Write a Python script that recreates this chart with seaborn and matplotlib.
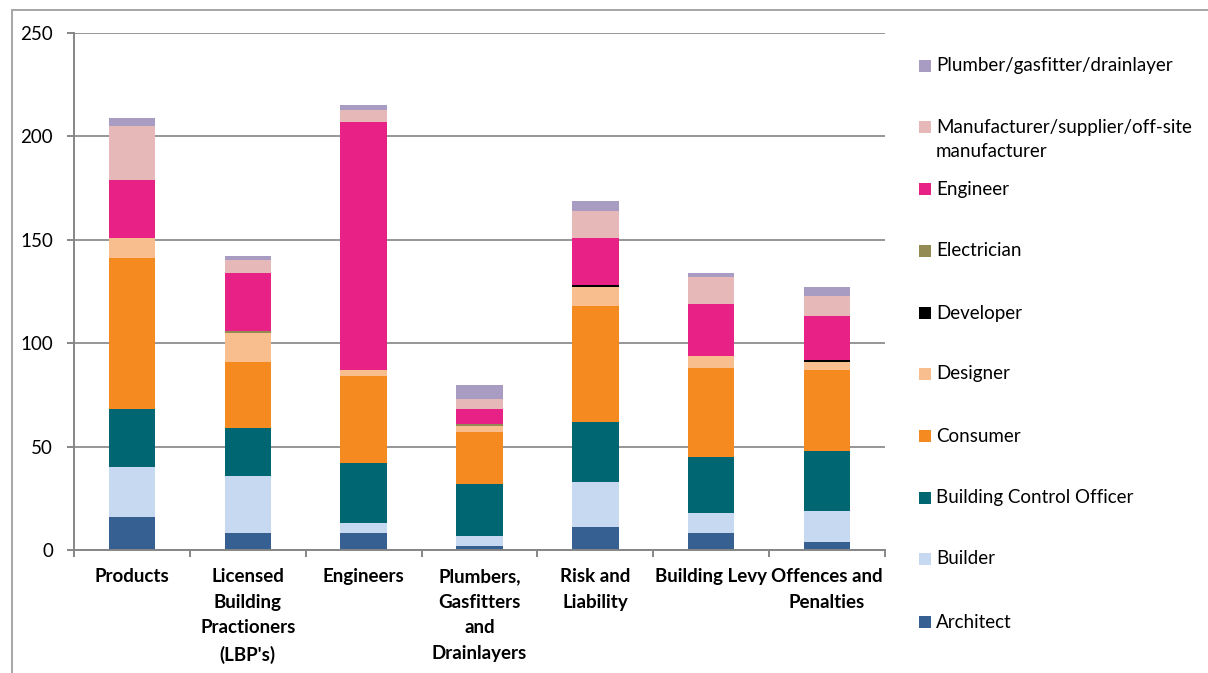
import matplotlib
matplotlib.use("Agg")
import matplotlib.pyplot as plt
from matplotlib.patches import Rectangle
import numpy as np
import seaborn as sns

# Topics (x categories) and submitter groups (stacked series, bottom to top)
categories = [
    "Products",
    "Licensed\nBuilding\nPractioners\n(LBP's)",
    "Engineers",
    "Plumbers,\nGasfitters\nand\nDrainlayers",
    "Risk and\nLiability",
    "Building Levy",
    "Offences and\nPenalties",
]

architect = [16, 8, 8, 2, 11, 8, 4]
builder = [24, 28, 5, 5, 22, 10, 15]
building_control_officer = [28, 23, 29, 25, 29, 27, 29]
consumer = [73, 32, 42, 25, 56, 43, 39]
designer = [10, 14, 3, 3, 9, 6, 4]
developer = [0, 0, 0, 0, 1, 0, 1]
electrician = [0, 1, 0, 1, 0, 0, 0]
engineer = [28, 28, 120, 7, 23, 25, 21]
manufacturer = [26, 6, 6, 5, 13, 13, 10]
plumber = [4, 2, 2, 7, 5, 2, 4]

series_names = [
    "Architect",
    "Builder",
    "Building Control Officer",
    "Consumer",
    "Designer",
    "Developer",
    "Electrician",
    "Engineer",
    "Manufacturer/supplier/off-site\nmanufacturer",
    "Plumber/gasfitter/drainlayer",
]
series_values = [architect, builder, building_control_officer, consumer, designer,
                 developer, electrician, engineer, manufacturer, plumber]
series_colors = ["#376092", "#C6D9F1", "#006672", "#F58A21", "#F9BE8E",
                 "#000000", "#948A54", "#E82187", "#E6B9B8", "#A99CC2"]

sns.set_style("white")
plt.rcParams["font.family"] = ["Lato", "DejaVu Sans"]
plt.rcParams["text.color"] = "black"
plt.rcParams["xtick.color"] = "black"
plt.rcParams["ytick.color"] = "black"

FS = 13.5
W, H = 1208, 673
fig = plt.figure(figsize=(W / 100, H / 100), dpi=100)
ax = fig.add_axes([74 / W, 1 - 550 / H, (885 - 74) / W, (550 - 33) / H])

bottom = np.zeros(len(categories))
for name, vals, col in zip(series_names, series_values, series_colors):
    sns.barplot(x=categories, y=vals, bottom=bottom, color=col, saturation=1,
                width=0.4, errorbar=None, order=categories, linewidth=0, ax=ax)
    bottom = bottom + np.array(vals)

grid_col = "#969696"
axis_col = "#868686"
ax.set_ylim(0, 250)
ax.set_xlim(-0.5, len(categories) - 0.5)
ax.set_yticks(np.arange(0, 251, 50))
ax.yaxis.grid(True, color=grid_col, linewidth=1.4)
ax.set_axisbelow(True)
for side in ["top", "right"]:
    ax.spines[side].set_visible(False)
for side in ["left", "bottom"]:
    ax.spines[side].set_color(axis_col)
    ax.spines[side].set_linewidth(1.4)

# tick marks sit between categories; labels sit under each bar
ax.set_xticks(np.arange(-0.5, len(categories), 1))
ax.set_xticklabels([])
ax.set_xticks(np.arange(len(categories)), minor=True)
ax.set_xticklabels(categories, minor=True, fontsize=FS, fontweight="bold",
                   linespacing=1.62, va="top")
ax.tick_params(axis="x", which="major", length=5, width=1.4, color=axis_col,
               direction="out", bottom=True)
ax.tick_params(axis="x", which="minor", length=0, pad=13)
ax.tick_params(axis="y", length=5, width=1.4, color=axis_col, direction="out",
               left=True, labelsize=FS, pad=10)
ax.set_xlabel("")
ax.set_ylabel("")

# legend, top entry first
legend_rows = [66, 127, 189, 251, 313, 374, 436, 498, 559, 622]
for i, y in enumerate(legend_rows):
    k = len(series_names) - 1 - i
    fig.patches.append(Rectangle((919 / W, 1 - (y + 6) / H), 12 / W, 12 / H,
                                 transform=fig.transFigure,
                                 facecolor=series_colors[k], edgecolor="none"))
    if "\n" in series_names[k]:
        fig.text(936 / W, 1 - (y - 8) / H, series_names[k], fontsize=FS,
                 va="top", ha="left", linespacing=1.5)
    else:
        fig.text(936 / W, 1 - y / H, series_names[k], fontsize=FS,
                 va="center", ha="left")

# chart frame
fig.patches.append(Rectangle((12 / W, -0.05), 1.2, 1.05 - 10 / H,
                             transform=fig.transFigure, facecolor="none",
                             edgecolor="#a6a6a6", linewidth=1.4))

fig.savefig("out.png", dpi=100)
